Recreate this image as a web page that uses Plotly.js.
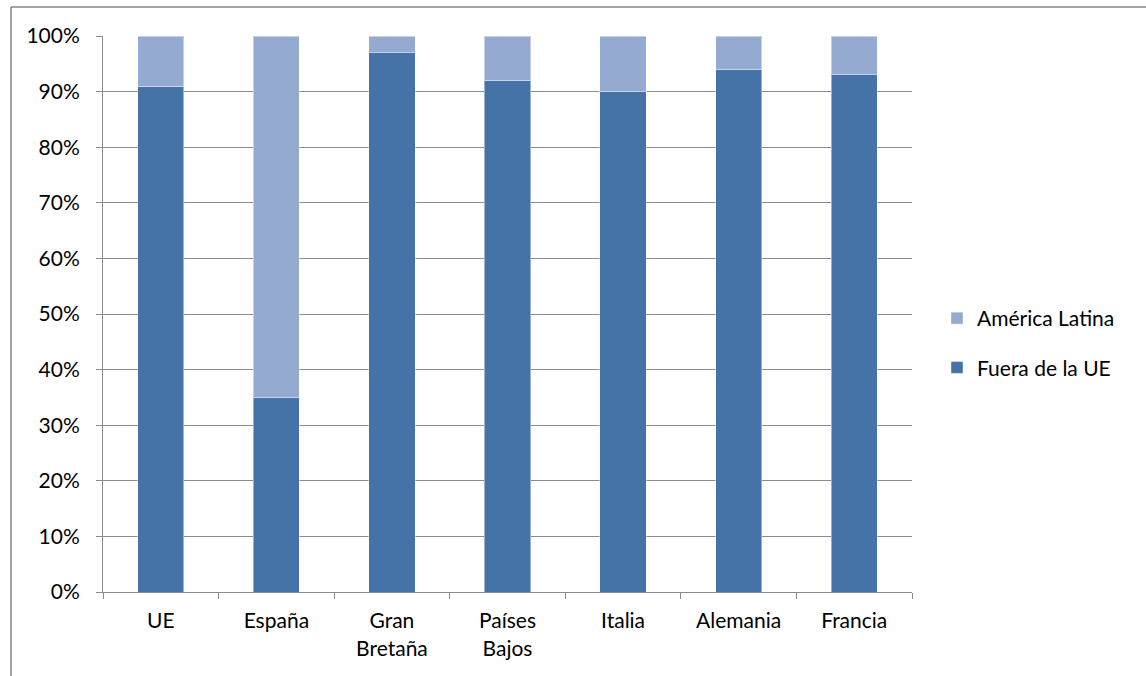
<!DOCTYPE html>
<html>
<head>
<meta charset="utf-8">
<script src="https://cdn.plot.ly/plotly-3.0.1.min.js"></script>
<style>
  html, body { margin: 0; padding: 0; background: #fff; overflow: hidden; }
  #chart { width: 1146px; height: 676px; }
</style>
</head>
<body>
<div id="chart"></div>
<script>
// Share of each destination, in percent
const categories = ['UE', 'España', 'Gran<br>Bretaña', 'Países<br>Bajos', 'Italia', 'Alemania', 'Francia'];
const fueraUE = [91, 35, 97, 92, 90, 94, 93];
const americaLatina = [9, 65, 3, 8, 10, 6, 7];
const yTickValues = [0, 10, 20, 30, 40, 50, 60, 70, 80, 90, 100];
const yTickLabels = ['0%', '10%', '20%', '30%', '40%', '50%', '60%', '70%', '80%', '90%', '100%'];

const FONT = 'Lato, Carlito, Calibri, sans-serif';
const GRID = '#8c8c8c';

const traces = [
  {
    type: 'bar',
    name: 'Fuera de la UE',
    legendgroup: 'fuera',
    legendrank: 2,
    x: categories,
    y: fueraUE,
    marker: { color: '#4673A7', line: { color: 'rgba(255,255,255,0.45)', width: 1 } },
    hoverinfo: 'x+y+name'
  },
  {
    type: 'bar',
    name: 'América Latina',
    legendgroup: 'latam',
    legendrank: 1,
    x: categories,
    y: americaLatina,
    marker: { color: '#95AAD1', line: { color: 'rgba(255,255,255,0.45)', width: 1 } },
    hoverinfo: 'x+y+name'
  }
];

const L = 103, R = 912, T = 36, B = 592;
const pw = R - L, ph = B - T;

const layout = {
  width: 1146,
  height: 676,
  margin: { l: L, r: 1146 - R, t: T, b: 676 - B, pad: 0 },
  paper_bgcolor: '#ffffff',
  plot_bgcolor: '#ffffff',
  barmode: 'stack',
  bargap: 0.6,
  font: { family: FONT, size: 21, color: '#000000' },
  showlegend: true,
  legend: {
    x: (937 - L) / pw,
    xanchor: 'left',
    y: (B - 343) / ph,
    yanchor: 'middle',
    traceorder: 'grouped',
    tracegroupgap: 19,
    font: { family: FONT, size: 21, color: '#000000' },
    bgcolor: 'rgba(0,0,0,0)'
  },
  xaxis: {
    type: 'category',
    showline: true,
    linecolor: GRID,
    linewidth: 1,
    ticks: 'outside',
    tickson: 'boundaries',
    ticklen: 6,
    tickcolor: GRID,
    showgrid: false,
    ticklabelstandoff: 10,
    tickfont: { family: FONT, size: 21, color: '#000000' },
    fixedrange: true
  },
  yaxis: {
    range: [0, 100],
    tickvals: yTickValues,
    ticktext: yTickLabels,
    showline: true,
    linecolor: GRID,
    linewidth: 1,
    ticks: 'outside',
    ticklen: 6,
    tickcolor: GRID,
    showgrid: true,
    gridcolor: GRID,
    gridwidth: 1,
    zeroline: false,
    ticklabelstandoff: 12,
    tickfont: { family: FONT, size: 21, color: '#000000' },
    fixedrange: true
  },
  shapes: [
    // outer chart frame: left and top edges
    {
      type: 'line', xref: 'paper', yref: 'paper',
      x0: (11 - L) / pw, x1: (11 - L) / pw,
      y0: (B - 700) / ph, y1: (B - 7) / ph,
      line: { color: '#868686', width: 1.5 }
    },
    {
      type: 'line', xref: 'paper', yref: 'paper',
      x0: (11 - L) / pw, x1: (1200 - L) / pw,
      y0: (B - 7) / ph, y1: (B - 7) / ph,
      line: { color: '#868686', width: 1.5 }
    }
  ]
};

Plotly.newPlot('chart', traces, layout, { displayModeBar: false, staticPlot: true });
</script>
</body>
</html>
